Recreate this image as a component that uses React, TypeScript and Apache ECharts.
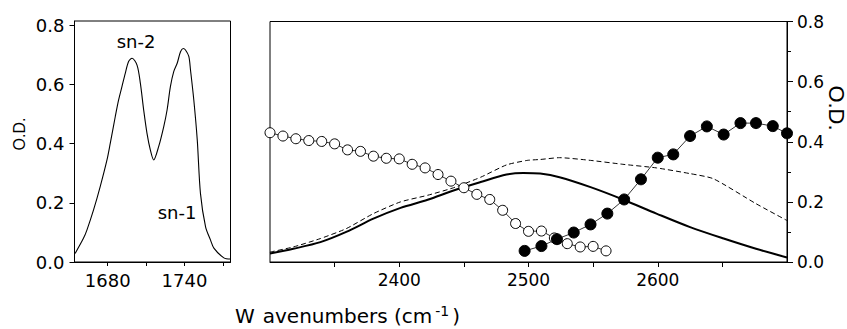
import React, { useEffect, useRef } from "react";
import * as echarts from "echarts";

// Left panel: C=O stretching band (wavenumber, O.D.)
const spectrumWavenumber = [
  1654.5, 1661, 1663.7, 1668.9, 1674.1, 1679.4, 1682, 1685.9, 1688.5, 1691.1, 1693.7, 1696.3,
  1699, 1702.9, 1705.5, 1708.1, 1710.7, 1713.3, 1715.9, 1719.8, 1723.8, 1726.4, 1729, 1731.6,
  1734.3, 1736.9, 1739, 1740.8, 1743.4, 1744.7, 1747.3, 1750, 1752.5, 1756.5, 1760.4, 1763,
  1770.8, 1776,
];
const spectrumOD = [
  0.029, 0.08, 0.108, 0.176, 0.255, 0.345, 0.402, 0.492, 0.548, 0.593, 0.638, 0.678,
  0.689, 0.666, 0.605, 0.514, 0.435, 0.379, 0.345, 0.39, 0.458, 0.514, 0.593, 0.644,
  0.672, 0.711, 0.722, 0.717, 0.695, 0.65, 0.548, 0.413, 0.232, 0.119, 0.074, 0.047,
  0.014, 0.01,
];

// Right panel: solid curve
const solidWavenumber = [2300, 2318, 2339, 2359, 2380, 2401, 2422, 2442, 2463, 2483, 2496, 2509, 2524, 2548, 2573, 2599, 2625, 2651, 2676, 2700];
const solidOD = [0.028, 0.044, 0.066, 0.1, 0.144, 0.18, 0.207, 0.238, 0.266, 0.291, 0.296, 0.294, 0.282, 0.249, 0.208, 0.161, 0.116, 0.078, 0.044, 0.015];

// Right panel: dashed curve
const dashedWavenumber = [2300, 2318, 2339, 2359, 2380, 2401, 2422, 2442, 2463, 2483, 2499, 2509, 2524, 2548, 2573, 2599, 2625, 2643, 2676, 2700];
const dashedOD = [0.033, 0.05, 0.078, 0.111, 0.161, 0.2, 0.222, 0.247, 0.282, 0.323, 0.338, 0.341, 0.347, 0.338, 0.325, 0.313, 0.294, 0.277, 0.194, 0.138];

// Right panel: open circles
const openWavenumber = [2300, 2310, 2320, 2330, 2340, 2350, 2360, 2370, 2380, 2390, 2400, 2410, 2420, 2430, 2440, 2450, 2460, 2470, 2480, 2490, 2500, 2510, 2520, 2530, 2540, 2550, 2560];
const openOD = [0.43, 0.419, 0.41, 0.404, 0.401, 0.393, 0.373, 0.368, 0.352, 0.345, 0.343, 0.325, 0.313, 0.291, 0.269, 0.247, 0.225, 0.208, 0.172, 0.128, 0.102, 0.103, 0.08, 0.061, 0.05, 0.052, 0.037];

// Right panel: filled circles
const filledWavenumber = [2497, 2510, 2522, 2535, 2548, 2561, 2574, 2587, 2600, 2612, 2625, 2638, 2651, 2664, 2676, 2689, 2700];
const filledOD = [0.037, 0.053, 0.076, 0.098, 0.125, 0.161, 0.208, 0.275, 0.347, 0.358, 0.419, 0.451, 0.424, 0.462, 0.462, 0.452, 0.428];

// Tick values
const leftXLabels = [1680, 1740];
const leftXTicks = [1680, 1710, 1740, 1770];
const odTicks = [0, 0.2, 0.4, 0.6, 0.8];
const rightXLabels = [2400, 2500, 2600];
const rightXTicks = [2350, 2400, 2450, 2500, 2550, 2600, 2650];

const zip = (xs: number[], ys: number[]) => xs.map((x, i) => [x, ys[i]]);

const FONT = "DejaVu Sans";

export default function App() {
  const ref = useRef<HTMLDivElement>(null);
  useEffect(() => {
    const chart = echarts.init(ref.current!, null, { renderer: "svg" });
    const labelStyle = { color: "#000", fontFamily: FONT, fontSize: 17 };
    const axisLine = { show: true, lineStyle: { color: "#000", width: 1 } };
    const intFmt = (v: number) => String(Math.round(v));
    const odFmt = (v: number) => v.toFixed(1);
    chart.setOption({
      animation: false,
      backgroundColor: "#fff",
      grid: [
        { left: 74.5, right: 616.5, top: 21, bottom: 67, show: true, borderColor: "#000", borderWidth: 1 },
        { left: 270, right: 60, top: 21.5, bottom: 67, show: true, borderColor: "#000", borderWidth: 1 },
      ],
      xAxis: [
        {
          type: "value", gridIndex: 0, min: 1654, max: 1776,
          axisLine, splitLine: { show: false },
          axisTick: { show: true, inside: false, length: 4, customValues: leftXTicks, lineStyle: { color: "#000" } },
          axisLabel: { ...labelStyle, fontSize: 18, margin: 9, customValues: leftXLabels, formatter: intFmt },
        },
        {
          type: "value", gridIndex: 1, min: 2300, max: 2700,
          axisLine, splitLine: { show: false },
          axisTick: { show: true, inside: false, length: 5, customValues: rightXTicks, lineStyle: { color: "#000" } },
          axisLabel: { ...labelStyle, margin: 9, customValues: rightXLabels, formatter: intFmt },
        },
      ],
      yAxis: [
        {
          type: "value", gridIndex: 0, min: 0, max: 0.815,
          axisLine, splitLine: { show: false },
          axisTick: { show: true, inside: false, length: 5, customValues: odTicks, lineStyle: { color: "#000" } },
          axisLabel: { ...labelStyle, fontSize: 18, margin: 10, customValues: odTicks, formatter: odFmt },
        },
        {
          type: "value", gridIndex: 1, position: "right", min: 0, max: 0.8, interval: 0.2,
          axisLine, splitLine: { show: false },
          axisTick: { show: true, inside: false, length: 6, lineStyle: { color: "#000" } },
          minorTick: { show: true, splitNumber: 2, length: 4, lineStyle: { color: "#000" } },
          minorSplitLine: { show: false },
          axisLabel: { ...labelStyle, margin: 10, formatter: odFmt },
        },
      ],
      series: [
        {
          type: "line", xAxisIndex: 0, yAxisIndex: 0, data: zip(spectrumWavenumber, spectrumOD),
          showSymbol: false, smooth: 0.3, lineStyle: { color: "#000", width: 1.1 },
        },
        {
          type: "line", xAxisIndex: 1, yAxisIndex: 1, data: zip(dashedWavenumber, dashedOD),
          showSymbol: false, smooth: 0.2, lineStyle: { color: "#000", width: 1, type: [5, 3] },
        },
        {
          type: "line", xAxisIndex: 1, yAxisIndex: 1, data: zip(solidWavenumber, solidOD),
          showSymbol: false, smooth: 0.3, lineStyle: { color: "#000", width: 2 },
        },
        {
          type: "line", xAxisIndex: 1, yAxisIndex: 1, data: zip(openWavenumber, openOD),
          symbol: "circle", symbolSize: 10, showSymbol: true,
          lineStyle: { color: "#000", width: 0.8 },
          itemStyle: { color: "#fff", borderColor: "#000", borderWidth: 1 },
        },
        {
          type: "line", xAxisIndex: 1, yAxisIndex: 1, data: zip(filledWavenumber, filledOD),
          symbol: "circle", symbolSize: 11, showSymbol: true,
          lineStyle: { color: "#000", width: 0.8 },
          itemStyle: { color: "#000", borderColor: "#000", borderWidth: 1 },
        },
      ],
      graphic: [
        {
          type: "text", x: 136, y: 41,
          style: { text: "sn-2", fill: "#000", fontFamily: FONT, fontSize: 18, textAlign: "center", textVerticalAlign: "middle" },
        },
        {
          type: "text", x: 177, y: 212,
          style: { text: "sn-1", fill: "#000", fontFamily: FONT, fontSize: 18, textAlign: "center", textVerticalAlign: "middle" },
        },
        {
          type: "text", x: 19, y: 134, rotation: Math.PI / 2,
          style: { text: "O.D.", fill: "#000", fontFamily: "Liberation Sans", fontSize: 16, textAlign: "center", textVerticalAlign: "middle" },
        },
        {
          type: "text", x: 836, y: 108, rotation: -Math.PI / 2,
          style: { text: "O.D.", fill: "#000", fontFamily: "Liberation Sans", fontSize: 22, textAlign: "center", textVerticalAlign: "middle" },
        },
        {
          type: "text", x: 235, y: 303.5,
          style: {
            text: "{a|W}{b|avenumbers (cm}{s|-1}{b|)}",
            fill: "#000",
            textAlign: "left",
            textVerticalAlign: "top",
            rich: {
              a: { fontFamily: FONT, fontSize: 20, lineHeight: 24, fill: "#000", padding: [0, 8, 0, 0] },
              b: { fontFamily: FONT, fontSize: 20, lineHeight: 24, fill: "#000" },
              s: { fontFamily: FONT, fontSize: 14, lineHeight: 14, fill: "#000", verticalAlign: "top", padding: [0, 3, 0, 3] },
            },
          },
        },
      ],
    });
    return () => chart.dispose();
  }, []);
  return (
    <div
      ref={ref}
      style={{ position: "fixed", left: 0, top: 0, width: 847, height: 329, background: "#fff" }}
    />
  );
}
